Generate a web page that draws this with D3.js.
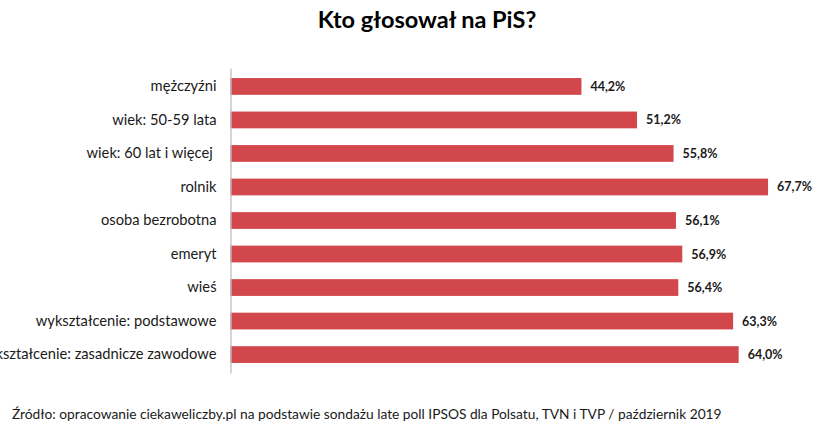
<!DOCTYPE html>
<html>
<head>
<meta charset="utf-8">
<script src="https://cdn.jsdelivr.net/npm/d3@7"></script>
<style>
  body { margin: 0; background: #fff; }
  svg { display: block; font-family: Lato, "Open Sans", sans-serif; }
</style>
</head>
<body>
<div id="graf"></div>
<script>
// I. Datos
kategorie = ['mężczyźni', 'wiek: 50-59 lata', 'wiek: 60 lat i więcej ', 'rolnik',
             'osoba bezrobotna', 'emeryt', 'wieś', 'wykształcenie: podstawowe',
             'wykształcenie: zasadnicze zawodowe']
wartosci = [44.2, 51.2, 55.8, 67.7, 56.1, 56.9, 56.4, 63.3, 64.0]

tytul = 'Kto głosował na PiS?'
zrodlo = 'Źródło: opracowanie ciekaweliczby.pl na podstawie sondażu late poll IPSOS dla Polsatu, TVN i TVP / październik 2019'

// II. Configuración
ancho_total = 840
alto_total = 442

svg = d3.select('#graf').append('svg')
        .attr('width', ancho_total)
        .attr('height', alto_total)

x = d3.scaleLinear()
      .domain([0, 70])
      .range([230.5, 230.5 + 70 * 7.94])

y = d3.scaleBand()
      .domain(kategorie)
      .range([68, 373])
      .paddingInner(0.5)
      .paddingOuter(0.3)

// Titulo
svg.append('text')
   .attr('x', 427)
   .attr('y', 28)
   .attr('text-anchor', 'middle')
   .attr('font-size', '23.5px')
   .attr('font-weight', 'bold')
   .attr('fill', '#000')
   .text(tytul)

// Barras
svg.selectAll('rect.bar')
   .data(wartosci)
   .enter()
   .append('rect')
   .attr('class', 'bar')
   .attr('x', x(0))
   .attr('y', (d, i) => y(kategorie[i]))
   .attr('width', d => x(d) - x(0))
   .attr('height', y.bandwidth())
   .attr('fill', '#D2474B')

// Etiquetas de valor
svg.selectAll('text.val')
   .data(wartosci)
   .enter()
   .append('text')
   .attr('class', 'val')
   .attr('x', d => x(d) + 9)
   .attr('y', (d, i) => y(kategorie[i]) + y.bandwidth() / 2)
   .attr('dy', '0.36em')
   .attr('font-size', '12.5px')
   .attr('font-weight', 'bold')
   .attr('fill', '#1a1a1a')
   .text(d => d.toFixed(1).replace('.', ',') + '%')

// Eje Y
eje = svg.append('g')
   .attr('transform', `translate(${ x(0) },0)`)
   .call(d3.axisLeft(y).tickSize(0).tickSizeOuter(0).tickPadding(14))

eje.select('.domain').attr('stroke', '#bfbfbf').attr('stroke-width', 1.3)
eje.selectAll('text')
   .attr('font-family', 'Lato, "Open Sans", sans-serif')
   .attr('font-size', '14.7px')
   .attr('fill', '#1a1a1a')
   .style('white-space', 'pre')

// Fuente
svg.append('text')
   .attr('x', 12)
   .attr('y', 419)
   .attr('font-size', '13.75px')
   .attr('fill', '#1a1a1a')
   .text(zrodlo)
</script>
</body>
</html>
